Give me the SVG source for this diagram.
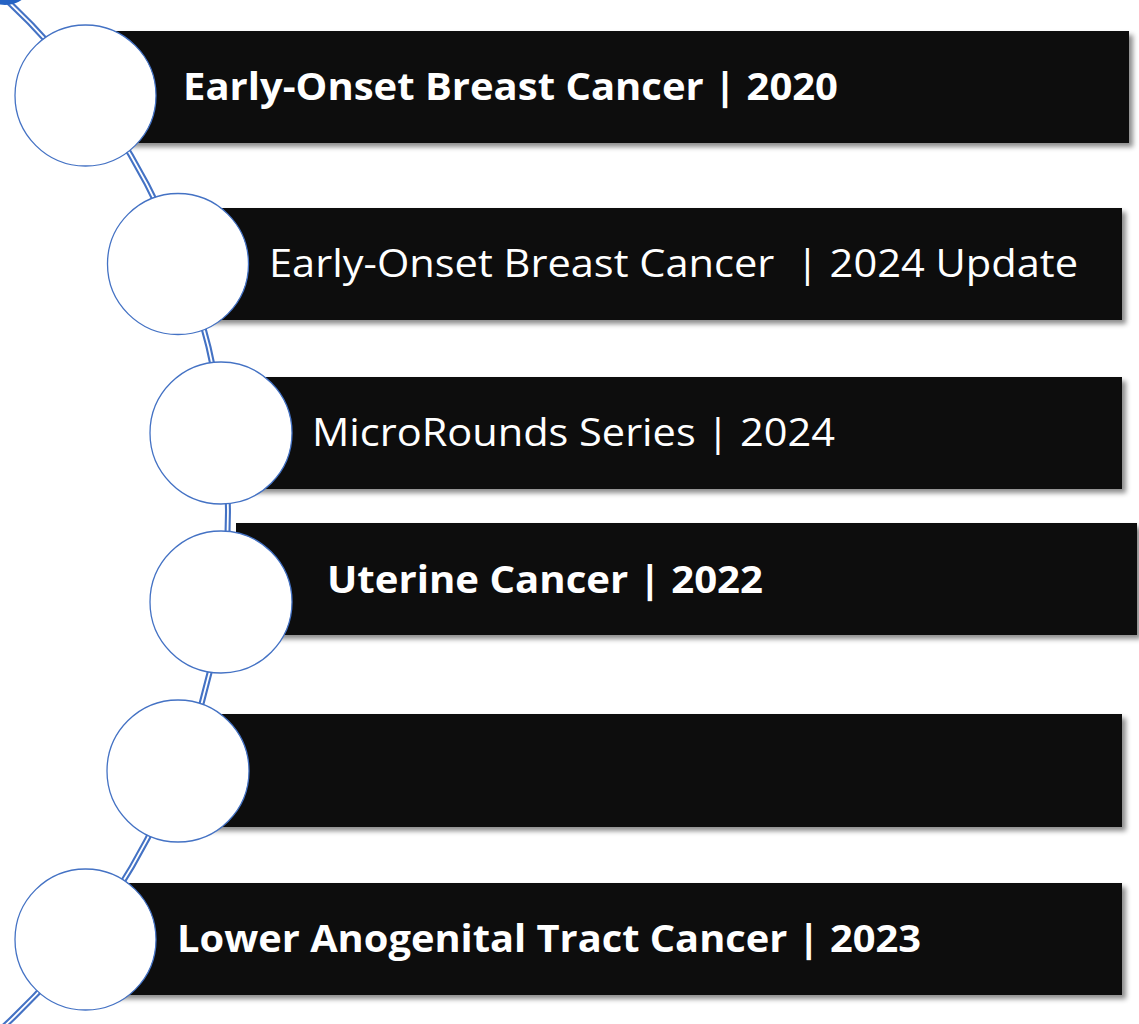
<svg xmlns="http://www.w3.org/2000/svg" width="1139" height="1024" viewBox="0 0 1139 1024">
<defs>
<filter id="sh" x="-5%" y="-20%" width="115%" height="150%">
<feDropShadow dx="4" dy="4" stdDeviation="2.5" flood-color="#000" flood-opacity="0.45"/>
</filter>
<style>
.bar{fill:#0d0d0d;filter:url(#sh)}
.dot{fill:#fff;stroke:#4472c4;stroke-width:1.3}
.t{fill:#fff;font-family:"Open Sans","Liberation Sans",sans-serif;font-size:38px}
.b{font-weight:bold}
.c1{fill:none;stroke:#4472c4;stroke-width:6}
.c2{fill:none;stroke:#fff;stroke-width:1.8}
</style>
</defs>
<rect width="1139" height="1024" fill="#fff"/>
<g id="connectors">
<path class="c1" d="M -4.3,-10 A 702.7 702.7 0 0 1 -4.3,1034"/>
<path class="c2" d="M -4.3,-10 A 702.7 702.7 0 0 1 -4.3,1034"/>
</g>
<g id="top-dot"><circle cx="5" cy="-25" r="30" fill="#2563c4"/></g>
<g id="node1">
<rect class="bar" x="86" y="31" width="1043" height="112"/>
<circle class="dot" cx="85.5" cy="95.5" r="70.5"/>
<text class="t b" x="183" y="100" textLength="655" lengthAdjust="spacingAndGlyphs">Early-Onset Breast Cancer | 2020</text>
</g>
<g id="node2">
<rect class="bar" x="178" y="208" width="944" height="112"/>
<circle class="dot" cx="178" cy="264" r="70.5"/>
<text class="t" x="269" y="277" textLength="809" lengthAdjust="spacingAndGlyphs" xml:space="preserve">Early-Onset Breast Cancer  | 2024 Update</text>
</g>
<g id="node3">
<rect class="bar" x="221" y="377" width="901" height="112"/>
<circle class="dot" cx="221" cy="433" r="71"/>
<text class="t" x="312" y="446" textLength="523" lengthAdjust="spacingAndGlyphs">MicroRounds Series | 2024</text>
</g>
<g id="node4">
<rect class="bar" x="236" y="523" width="901" height="112"/>
<circle class="dot" cx="221" cy="602" r="71"/>
<text class="t b" x="327" y="593" textLength="436" lengthAdjust="spacingAndGlyphs">Uterine Cancer | 2022</text>
</g>
<g id="node5">
<rect class="bar" x="178" y="714" width="944" height="113"/>
<circle class="dot" cx="178" cy="771" r="71"/>
</g>
<g id="node6">
<rect class="bar" x="86" y="883" width="1036" height="112"/>
<circle class="dot" cx="85.5" cy="939.5" r="70.5"/>
<text class="t b" x="177" y="952" textLength="744" lengthAdjust="spacingAndGlyphs">Lower Anogenital Tract Cancer | 2023</text>
</g>
</svg>
